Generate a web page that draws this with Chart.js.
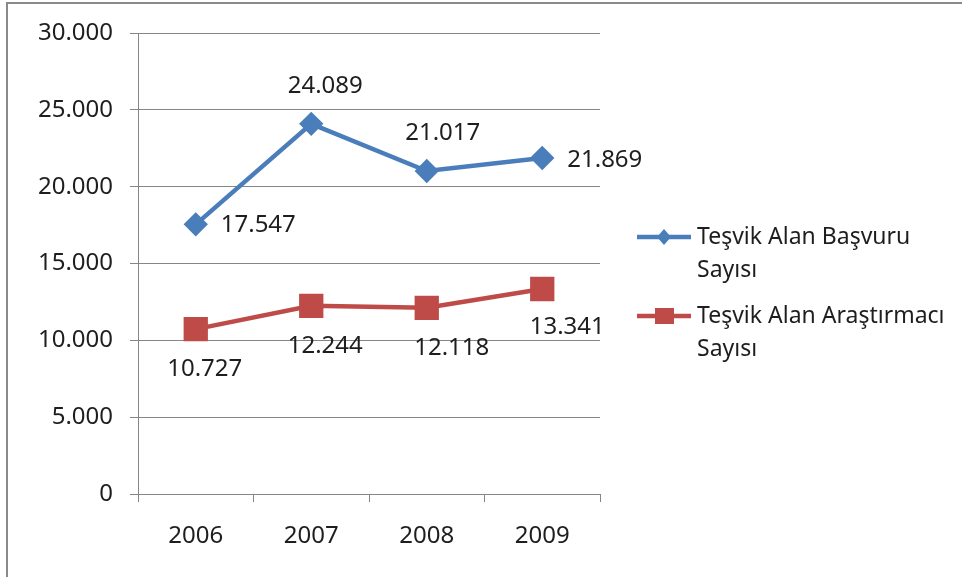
<!DOCTYPE html>
<html>
<head>
<meta charset="utf-8">
<script src="https://cdn.jsdelivr.net/npm/chart.js@4"></script>
<style>
  html, body { margin: 0; padding: 0; background: #fff; }
  #wrap { position: relative; width: 962px; height: 577px; }
</style>
</head>
<body>
<div id="wrap"><canvas id="chart" width="962" height="577"></canvas></div>
<script>
const years = ['2006', '2007', '2008', '2009'];
const basvuru = [17547, 24089, 21017, 21869];
const arastirmaci = [10727, 12244, 12118, 13341];
const seriesNames = [['Teşvik Alan Başvuru', 'Sayısı'], ['Teşvik Alan Araştırmacı', 'Sayısı']];
const yTicks = [0, 5000, 10000, 15000, 20000, 25000, 30000];

const FONT = 'Noto Sans';
const TEXT = '#1e1e1e';
const fmt = v => String(v).replace(/\B(?=(\d{3})+(?!\d))/g, '.');

// where each value label sits relative to its point: [dx, dy, align]
const labelPos = [
  [[25, 1, 'left'], [14, -38, 'center'], [16, -38, 'center'], [25, 2, 'left']],
  [[9, 40, 'center'], [14, 40, 'center'], [25, 40, 'center'], [25, 38, 'center']]
];

const frame = {
  id: 'frame',
  beforeDraw(chart) {
    const ctx = chart.ctx;
    ctx.save();
    ctx.fillStyle = '#fff';
    ctx.fillRect(0, 0, chart.width, chart.height);
    ctx.strokeStyle = '#8a8a8a';
    ctx.lineWidth = 2;
    ctx.beginPath();
    ctx.moveTo(7, chart.height);
    ctx.lineTo(7, 3);
    ctx.lineTo(chart.width, 3);
    ctx.stroke();
    ctx.restore();
  }
};

const valueLabels = {
  id: 'valueLabels',
  afterDatasetsDraw(chart) {
    const ctx = chart.ctx;
    ctx.save();
    ctx.font = '24px "' + FONT + '"';
    ctx.fillStyle = TEXT;
    ctx.textBaseline = 'middle';
    chart.data.datasets.forEach((ds, i) => {
      chart.getDatasetMeta(i).data.forEach((pt, j) => {
        const p = labelPos[i][j];
        ctx.textAlign = p[2];
        ctx.fillText(fmt(ds.data[j]), pt.x + p[0], pt.y + p[1]);
      });
    });
    ctx.restore();
  }
};

const sideLegend = {
  id: 'sideLegend',
  afterDraw(chart) {
    const ctx = chart.ctx;
    const rows = [237, 316];
    ctx.save();
    chart.data.datasets.forEach((ds, i) => {
      const y = rows[i];
      ctx.strokeStyle = ds.borderColor;
      ctx.lineWidth = 4.5;
      ctx.beginPath();
      ctx.moveTo(637, y);
      ctx.lineTo(691, y);
      ctx.stroke();
      ctx.fillStyle = ds.backgroundColor;
      ctx.beginPath();
      if (ds.pointStyle === 'rectRot') {
        ctx.moveTo(664, y - 8); ctx.lineTo(671, y); ctx.lineTo(664, y + 8); ctx.lineTo(657, y);
        ctx.closePath();
      } else {
        ctx.rect(655, y - 8, 19, 16);
      }
      ctx.fill();
      ctx.fillStyle = TEXT;
      ctx.font = '23px "' + FONT + '"';
      ctx.textAlign = 'left';
      ctx.textBaseline = 'middle';
      seriesNames[i].forEach((line, k) => ctx.fillText(line, 697, y + k * 33));
    });
    ctx.restore();
  }
};

new Chart(document.getElementById('chart'), {
  type: 'line',
  data: {
    labels: years,
    datasets: [{
      label: seriesNames[0].join(' '),
      data: basvuru,
      borderColor: '#4A7EBB',
      backgroundColor: '#4A7EBB',
      borderWidth: 4.5,
      pointStyle: 'rectRot',
      pointRadius: 9,
      pointHoverRadius: 9
    }, {
      label: seriesNames[1].join(' '),
      data: arastirmaci,
      borderColor: '#BE4B48',
      backgroundColor: '#BE4B48',
      borderWidth: 4.5,
      pointStyle: 'rect',
      pointRadius: 14,
      pointHoverRadius: 14
    }]
  },
  options: {
    responsive: false,
    animation: false,
    events: [],
    layout: { padding: { left: 0, right: 362, top: 33, bottom: 0 } },
    plugins: { legend: { display: false }, tooltip: { enabled: false } },
    scales: {
      x: {
        offset: true,
        grid: { offset: true, drawOnChartArea: false, color: '#868686', tickLength: 8 },
        border: { color: '#868686', width: 1 },
        ticks: { color: TEXT, font: { family: FONT, size: 24 }, padding: 20 },
        afterFit(s) { s.height = 83; }
      },
      y: {
        min: 0,
        max: 30000,
        afterBuildTicks(s) { s.ticks = yTicks.map(v => ({ value: v })); },
        grid: { color: '#868686', tickLength: 8 },
        border: { color: '#868686', width: 1 },
        ticks: { color: TEXT, font: { family: FONT, size: 24 }, padding: 17, callback: v => fmt(v) },
        afterFit(s) { s.width = 138; }
      }
    }
  },
  plugins: [frame, valueLabels, sideLegend]
});
</script>
</body>
</html>
